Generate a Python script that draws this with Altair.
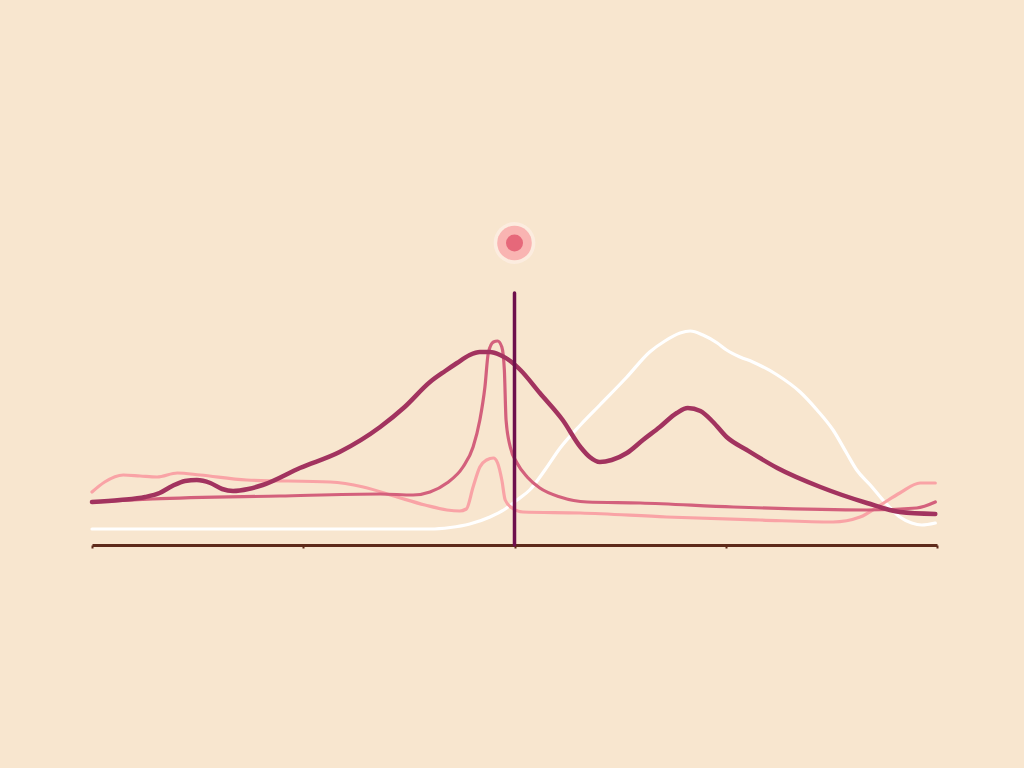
import altair as alt
import pandas as pd
import jinja2

# x in 0-100 units (axis ticks every 25), y in arbitrary units above the axis
dark_x = [0, 3.3, 6.3, 8.0, 9.5, 11.0, 12.4, 14.0, 15.4, 16.7, 18.5, 20.2, 24.6, 29.3, 34.1, 37.0, 40.0,
          41.8, 43.2, 44.7, 45.9, 47.1, 48.3, 49.5, 50.7, 53.0, 55.7, 57.8, 58.9, 60.1, 61.5, 63.3, 65.2,
          67.2, 69.2, 70.5, 72.0, 73.5, 75.1, 77.5, 81.1, 86.2, 91.7, 95.6, 99.8]
dark_y = [43, 45, 48, 52, 59, 64, 65, 62, 56, 54, 56, 60, 77, 93, 118, 138, 163,
          174, 182, 190, 193, 193, 190, 184, 175, 152, 125, 98, 88, 83, 85, 92, 105,
          118, 132, 137, 134, 123, 108, 95, 77, 58, 42, 33, 31]

mid_x = [0, 7.2, 22.2, 34.1, 38.0, 40.0, 42.0, 43.9, 45.1, 45.9, 46.5, 46.9, 47.5, 48.0, 48.5, 48.8,
         49.0, 49.5, 50.3, 51.5, 53.0, 55.4, 58.6, 64.9, 75.9, 91.7, 97.6, 99.8]
mid_y = [43, 46, 49, 51, 50, 53, 62, 78, 98, 125, 158, 192, 203, 204, 198, 175,
         125, 98, 82, 68, 57, 48, 43, 42, 38, 35, 37, 43]

light_x = [0, 1.5, 3.7, 5.7, 7.7, 10.1, 12.8, 18.3, 28.2, 32.1, 36.1, 39.4, 42.0, 43.5, 44.3, 45.1, 45.9,
           46.7, 47.5, 48.0, 48.5, 48.9, 49.7, 51.0, 57.8, 68.0, 79.0, 87.7, 90.9, 93.3, 95.6, 98.0, 99.8]
light_y = [53, 63, 70, 69, 68, 72, 70, 65, 63, 58, 48, 40, 35, 34, 36, 58, 78,
           85, 87, 82, 65, 45, 37, 33, 32, 28, 25, 23, 28, 40, 52, 62, 62]

white_x = [0, 40.0, 42.4, 44.7, 47.1, 48.9, 50.3, 51.8, 53.6, 55.4, 57.8, 60.1, 63.3, 66.0, 67.8, 69.6, 70.8,
           72.3, 74.0, 75.1, 76.7, 78.2, 81.1, 83.8, 85.8, 87.7, 89.3, 90.5, 92.1, 93.8, 95.6, 97.0, 98.2, 99.8]
white_y = [16, 16, 17.5, 21, 28, 36, 45, 55, 75, 97, 120, 140, 168, 193, 204, 212, 214,
           210, 202, 195, 188, 183, 170, 153, 135, 115, 92, 75, 60, 43, 28, 22, 20, 22]

marker_x = [50]
marker_top = [252]
dot_y = [302]
tick_values = [0, 25, 50, 75, 100]

BG = "#F8E6CF"

xs = alt.Scale(domain=[0, 100], nice=False, zero=False)
ys = alt.Scale(domain=[0, 320], nice=False)

x_axis = alt.Axis(values=tick_values, labels=False, title=None, grid=False,
                  domainColor="#5E2A1A", domainWidth=3, tickColor="#5E2A1A",
                  tickSize=3, tickWidth=2)


def line(xv, yv, color, width):
    df = pd.DataFrame({"x": xv, "y": yv})
    return alt.Chart(df).mark_line(color=color, strokeWidth=width, interpolate="monotone",
                                   strokeCap="round", strokeJoin="round").encode(
        x=alt.X("x:Q", scale=xs, axis=x_axis),
        y=alt.Y("y:Q", scale=ys, axis=None),
    )


white = line(white_x, white_y, "#FFFFFF", 3.2)
light = line(light_x, light_y, "#F9A3A6", 3.2)
mid = line(mid_x, mid_y, "#D3607C", 3.2)
dark = line(dark_x, dark_y, "#A2335F", 4.5)

rule_df = pd.DataFrame({"x": marker_x, "y": [0], "y2": marker_top})
rule = alt.Chart(rule_df).mark_rule(color="#6E0F4C", strokeWidth=3.5, strokeCap="round").encode(
    x=alt.X("x:Q", scale=xs),
    y=alt.Y("y:Q", scale=ys),
    y2="y2:Q",
)

dot_df = pd.DataFrame({"x": marker_x, "y": dot_y})
halo = alt.Chart(dot_df).mark_point(filled=True, shape="circle", color="#FCEDE2", opacity=0.8, size=1750).encode(
    x=alt.X("x:Q", scale=xs), y=alt.Y("y:Q", scale=ys))
mid_dot = alt.Chart(dot_df).mark_point(filled=True, shape="circle", color="#F9B4B2", opacity=1, size=1200).encode(
    x=alt.X("x:Q", scale=xs), y=alt.Y("y:Q", scale=ys))
inner = alt.Chart(dot_df).mark_point(filled=True, shape="circle", color="#E6687A", opacity=1, size=290).encode(
    x=alt.X("x:Q", scale=xs), y=alt.Y("y:Q", scale=ys))

chart = alt.layer(white, light, mid, dark, rule, halo, mid_dot, inner).properties(
    width=845, height=320,
    autosize=alt.AutoSizeParams(type="none"),
    padding={"left": 84, "top": 217, "right": 79, "bottom": 215},
    background=BG,
).configure_view(stroke=None)

page_template = jinja2.Template("""<!DOCTYPE html>
<html>
<head>
  <meta charset="utf-8">
  <style>html, body { background: """ + BG + """; }</style>
  <script type="text/javascript" src="{{ base_url }}/vega@{{ vega_version }}"></script>
  <script type="text/javascript" src="{{ base_url }}/vega-lite@{{ vegalite_version }}"></script>
  <script type="text/javascript" src="{{ base_url }}/vega-embed@{{ vegaembed_version }}"></script>
</head>
<body>
  <div id="{{ output_div }}"></div>
  <script type="text/javascript">
    var spec = {{ spec }};
    var embedOpt = Object.assign({"mode": "vega-lite"}, {{ embed_options }});
    vegaEmbed("#{{ output_div }}", spec, embedOpt).catch(console.error);
  </script>
</body>
</html>
""")

chart.save("out.html", embed_options={"renderer": "svg", "actions": False}, template=page_template)
